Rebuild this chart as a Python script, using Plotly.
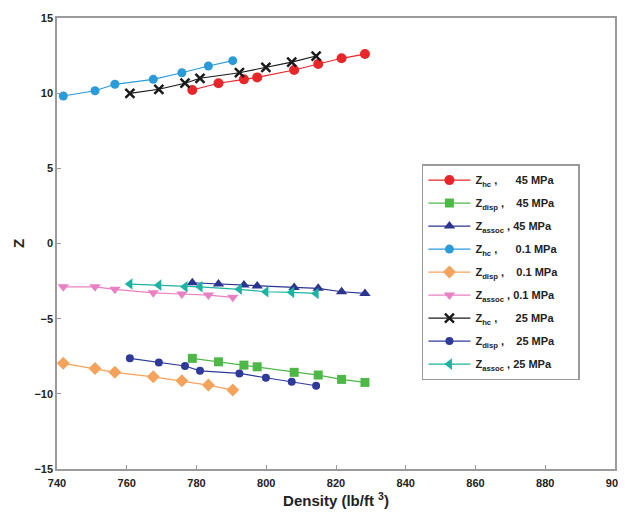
import plotly.graph_objects as go

# Densities (lb/ft^3) for each pressure
rho_45 = [778.8, 786.3, 793.6, 797.4, 808.0, 814.9, 821.6, 828.3]
rho_25 = [760.9, 769.2, 776.7, 781.0, 792.3, 799.9, 807.3, 814.3]
rho_01 = [741.8, 750.9, 756.6, 767.6, 775.8, 783.4, 790.4]

# Z contributions
zhc_45 = [10.21, 10.66, 10.92, 11.05, 11.54, 11.94, 12.32, 12.60]
zdisp_45 = [-7.64, -7.87, -8.09, -8.20, -8.57, -8.75, -9.04, -9.24]
zassoc_45 = [-2.61, -2.70, -2.76, -2.83, -2.92, -2.98, -3.21, -3.32]
zhc_01 = [9.81, 10.16, 10.59, 10.92, 11.36, 11.81, 12.16]
zdisp_01 = [-7.97, -8.31, -8.57, -8.87, -9.13, -9.42, -9.75]
zassoc_01 = [-2.88, -2.88, -3.05, -3.28, -3.36, -3.43, -3.58]
zhc_25 = [9.99, 10.26, 10.66, 10.99, 11.36, 11.72, 12.07, 12.47]
zdisp_25 = [-7.64, -7.91, -8.15, -8.47, -8.64, -8.93, -9.20, -9.46]
zassoc_25 = [-2.70, -2.77, -2.88, -2.88, -3.05, -3.21, -3.25, -3.32]

x_ticks = [740, 760, 780, 800, 820, 840, 860, 880, 900]
y_ticks = [-15, -10, -5, 0, 5, 10, 15]

NB = "\u00a0"
series = [
    (rho_45, zhc_45, f"Z<sub>hc</sub> ,{NB*6}45 MPa{NB*5}", "#e8262a", "circle", 10),
    (rho_45, zdisp_45, f"Z<sub>disp</sub> ,{NB*4}45 MPa{NB*5}", "#4db848", "square", 9),
    (rho_45, zassoc_45, f"Z<sub>assoc</sub> ,{NB}45 MPa{NB*5}", "#2b3590", "triangle-up", 10),
    (rho_01, zhc_01, f"Z<sub>hc</sub> ,{NB*6}0.1 MPa{NB*5}", "#2b9ad8", "circle", 9),
    (rho_01, zdisp_01, f"Z<sub>disp</sub> ,{NB*4}0.1 MPa{NB*5}", "#f5a35c", "diamond", 10),
    (rho_01, zassoc_01, f"Z<sub>assoc</sub> ,{NB}0.1 MPa{NB*5}", "#ea80c4", "triangle-down", 10),
    (rho_25, zhc_25, f"Z<sub>hc</sub> ,{NB*6}25 MPa{NB*5}", "#1a1a1a", "x-thin", 9),
    (rho_25, zdisp_25, f"Z<sub>disp</sub> ,{NB*4}25 MPa{NB*5}", "#2e3a9a", "circle", 8),
    (rho_25, zassoc_25, f"Z<sub>assoc</sub> ,{NB}25 MPa{NB*5}", "#1db3a3", "triangle-left", 10),
]

fig = go.Figure()
for i, (x, y, name, color, sym, size) in enumerate(series):
    marker = dict(color=color, size=size, symbol=sym)
    if sym == "x-thin":
        marker["line"] = dict(color=color, width=2.5)
    fig.add_trace(go.Scatter(
        x=x, y=y, mode="lines+markers", name=name,
        line=dict(color=color, width=1.2), marker=marker,
        legendgroup=f"g{i}",
    ))

axis_common = dict(
    showgrid=False, zeroline=False, showline=True, mirror=True,
    linecolor="#9a9a9a", linewidth=1.5, ticks="inside", ticklen=4,
    tickcolor="#9a9a9a", automargin=False,
    tickfont=dict(family="Liberation Sans, Arial, sans-serif", size=11, color="#222", weight="bold"),
)

fig.update_layout(
    width=618, height=507,
    margin=dict(l=49, r=11, t=10, b=46),
    paper_bgcolor="white", plot_bgcolor="white",
    font=dict(family="Liberation Sans, Arial, sans-serif", color="#222"),
    xaxis=dict(range=[740, 900], tickvals=x_ticks, ticklabelstandoff=3,
               title=dict(text="<b>Density (lb/ft <sup>3</sup>)</b>", font=dict(size=15), standoff=8),
               **axis_common),
    yaxis=dict(range=[-15, 15], tickvals=y_ticks,
               title=dict(text="<b>Z</b>", font=dict(size=15), standoff=6),
               **axis_common),
    legend=dict(x=0.654, y=0.676, xanchor="left", yanchor="top",
                bgcolor="white", bordercolor="#9a9a9a", borderwidth=1.5,
                font=dict(size=11, weight="bold"), tracegroupgap=4,
                itemwidth=42),
    showlegend=True,
)

fig.write_html("out.html")
